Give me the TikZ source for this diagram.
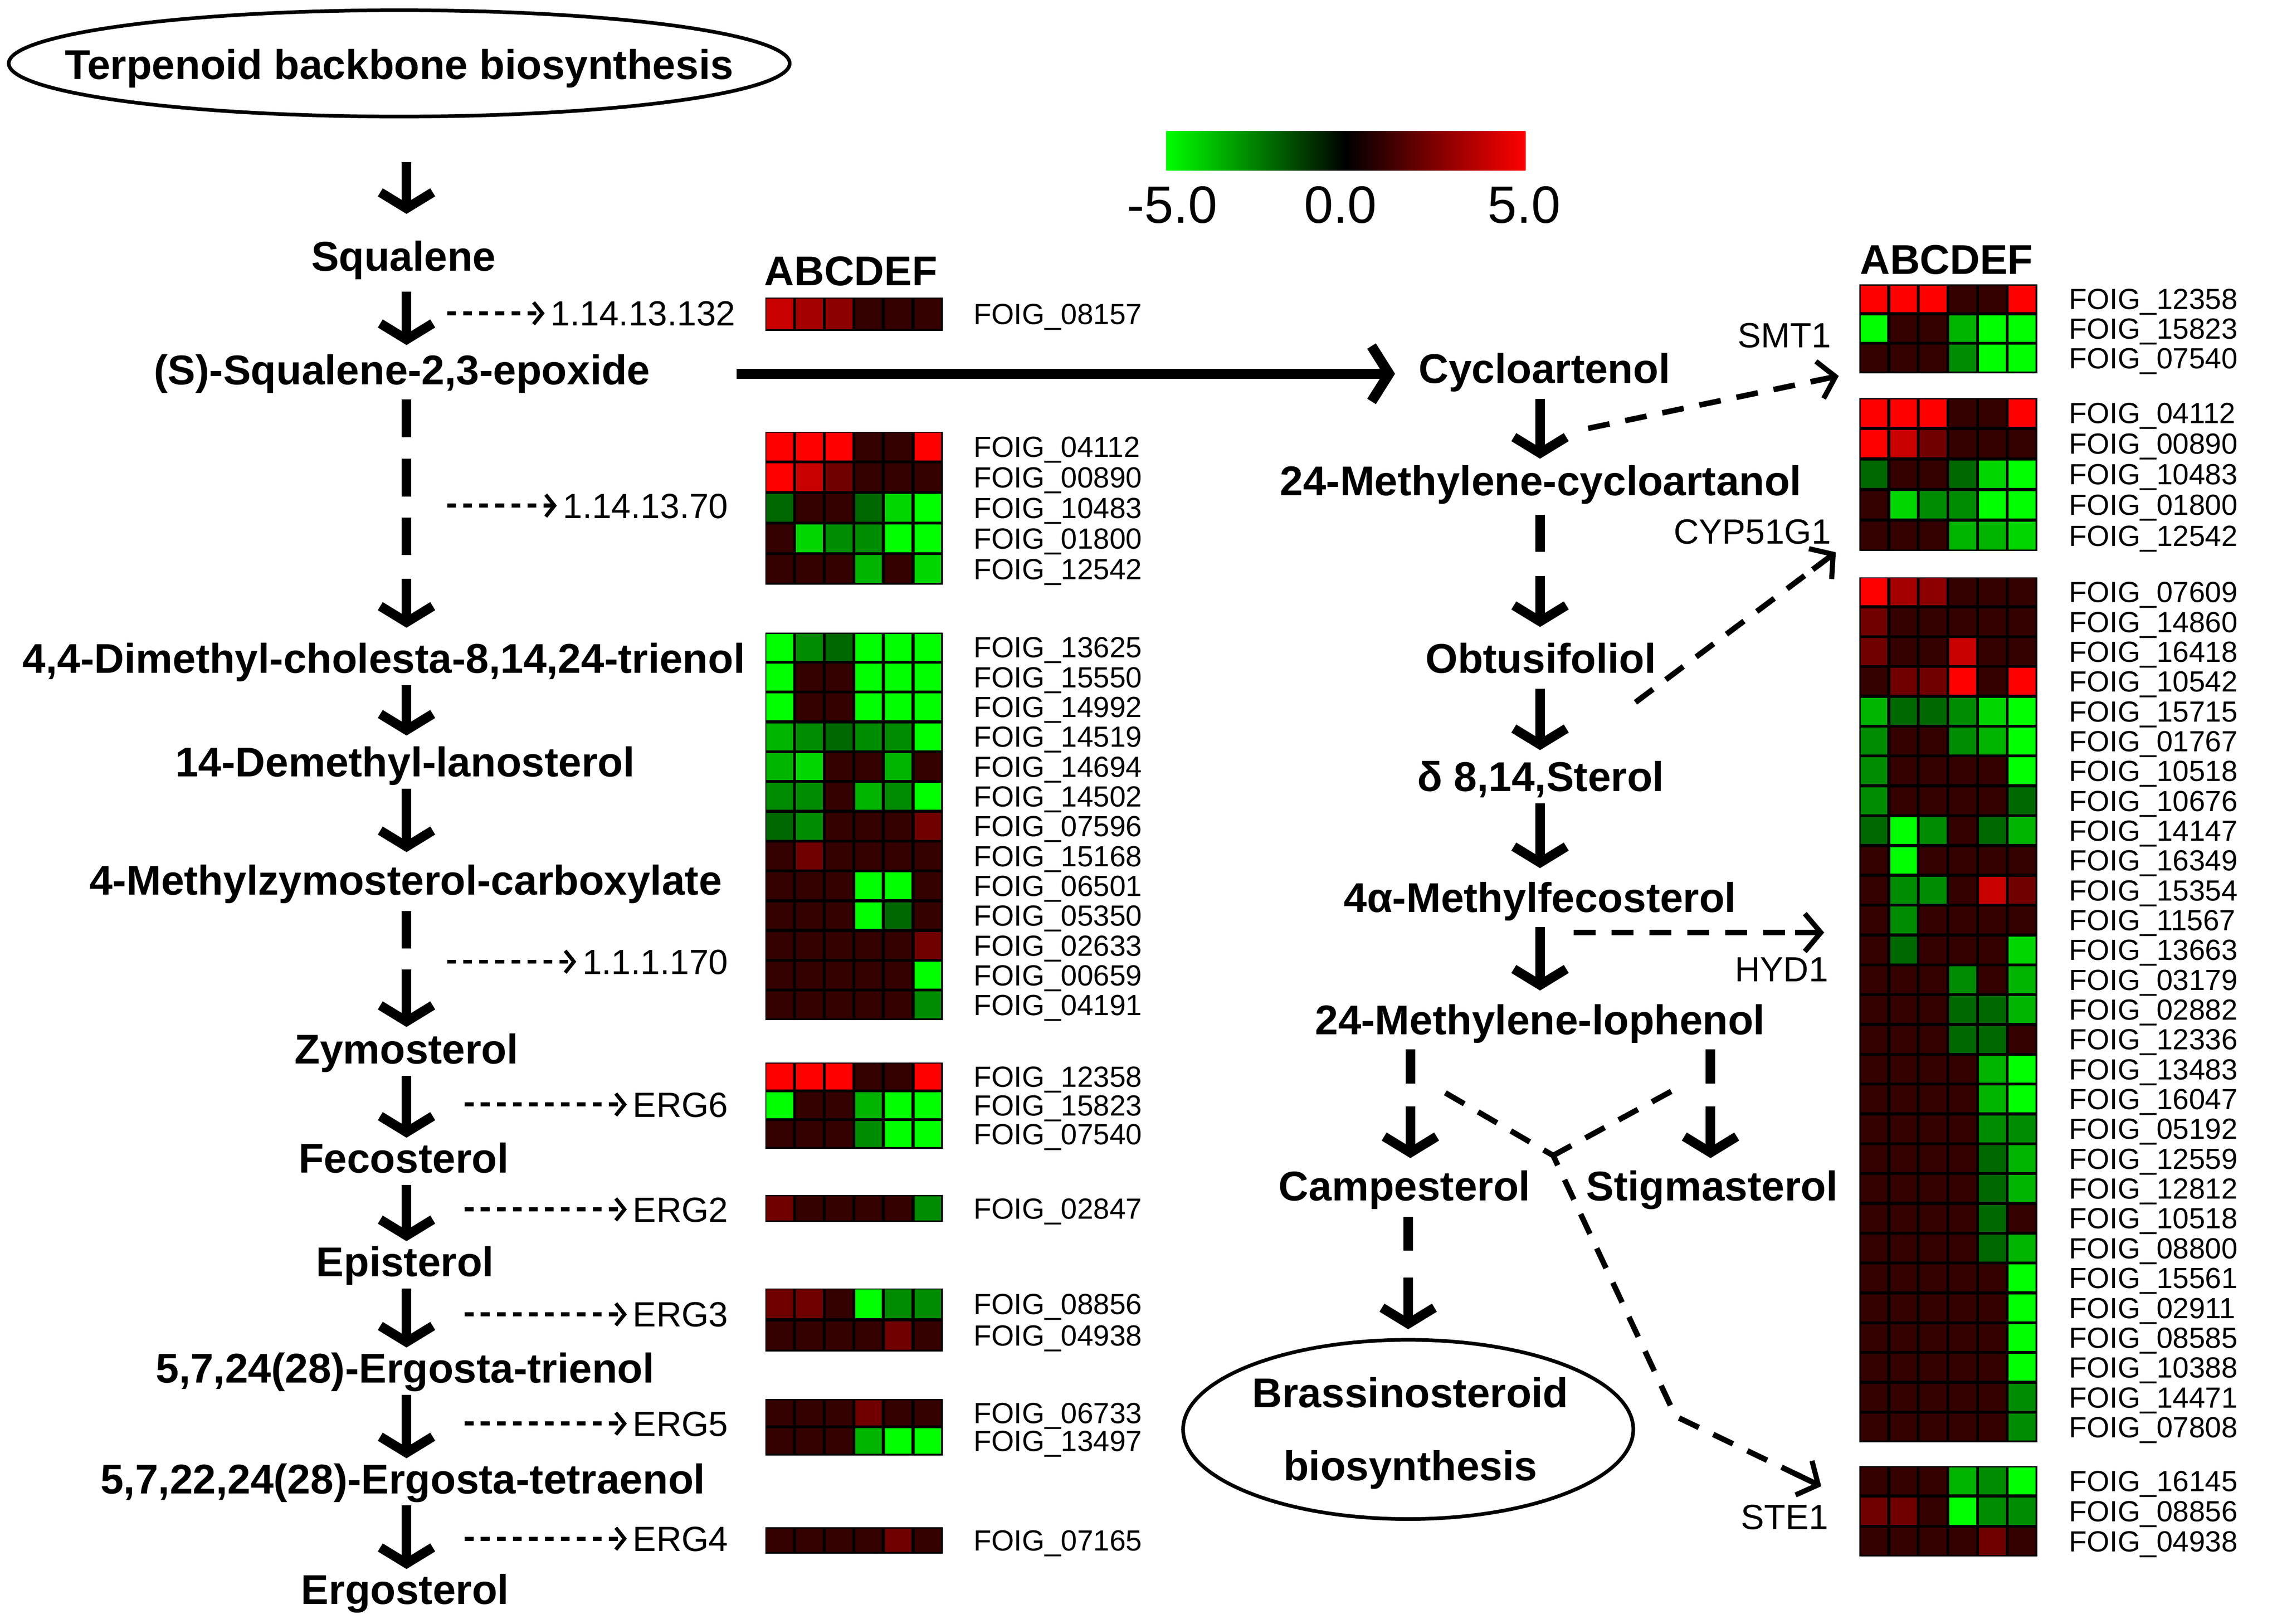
\documentclass[tikz,border=0pt]{standalone}
\usepackage{fontspec}
\setmainfont{Liberation Sans}
\usetikzlibrary{arrows.meta,shapes.geometric}
\definecolor{hmR}{RGB}{255,0,0}
\definecolor{hmr}{RGB}{200,0,0}
\definecolor{hmq}{RGB}{165,0,0}
\definecolor{hmp}{RGB}{140,0,0}
\definecolor{hmm}{RGB}{112,0,0}
\definecolor{hmd}{RGB}{52,0,0}
\definecolor{hmG}{RGB}{0,255,0}
\definecolor{hmg}{RGB}{0,215,0}
\definecolor{hme}{RGB}{0,180,0}
\definecolor{hmf}{RGB}{0,140,0}
\definecolor{hmh}{RGB}{0,104,0}
\newcommand\mypwf{\fontsize{28.5}{30}\selectfont\bfseries}
\newcommand\myenzf{\fontsize{24}{26}\selectfont}
\newcommand\myfoigf{\fontsize{20}{22}\selectfont}
\newcommand\mycbf{\fontsize{36}{38}\selectfont}
\tikzset{
  pw/.style={font=\mypwf, inner sep=0pt, text height=21pt, text depth=6pt, anchor=base},
  enz/.style={font=\myenzf, inner sep=0pt, text height=17.2pt, text depth=0pt},
  foig/.style={font=\myfoigf, inner sep=0pt, text height=14.3pt, text depth=0pt, anchor=west},
  cbl/.style={font=\mycbf, inner sep=0pt, anchor=base},
  hdr/.style={font=\mypwf, inner sep=0pt, anchor=base},
  ell/.style={ellipse, draw, line width=2.5pt, inner sep=0pt},
  solidarr/.style={line width=6.5pt, -{Straight Barb[length=11pt,width=36pt]}, shorten <=2pt, shorten >=3pt},
  dshaft/.style={line width=6.5pt, dash pattern=on 26pt off 14.5pt},
  bigarr/.style={line width=7pt, -{Straight Barb[length=12pt,width=38pt]}},
  enzarr/.style={line width=2.8pt, dash pattern=on 6pt off 5pt, -{Straight Barb[length=6pt,width=15pt,line width=2.5pt]}},
  rarr/.style={line width=3.8pt, dash pattern=on 15pt off 11pt},
  rhead/.style={line width=3.8pt, -{Straight Barb[length=11pt,width=26pt,line width=3.5pt]}},
}
% #1 name, #2 x, #3 ytop, #4 row height, #5 rows, #6 label x, #7 rows list
\newcommand\hmgroup[7]{%
  \node[fill=black, inner sep=0pt, minimum width=122pt, minimum height={#4pt*#5}, anchor=north west] (#1) at (#2,#3) {};
  \foreach \hcodes/\hlab [count=\hr from 0] in {#7} {
    \foreach \hc [count=\hi from 0] in \hcodes {
      \fill[fill=hm\hc] ({#2+\hi*20.333+1},{#3+\hr*#4+1}) rectangle ++(18.333,{#4-2});
    }
    \node[foig] (#1-\hr) at (#6,{#3+(\hr+0.5)*#4}) {FOIG\_\hlab};
  }
}
\begin{document}
\begin{tikzpicture}[x=1pt,y=-1pt]
\useasboundingbox (0,0) rectangle (1566.25,1114.25);
\fill[white] (0,0) rectangle (1566.25,1114.25);
\coordinate (colL) at (279,0);
\coordinate (colR) at (1057,0);

% ---------- left pathway ----------
\node[ell, minimum width=536pt, minimum height=73pt] (terp) at (274,43.5) {};
\node[pw, anchor=center, text depth=0pt] (terpT) at (274,44) {Terpenoid backbone biosynthesis};
\node[pw] (squal) at (277,186) {Squalene};
\node[pw] (epox) at (276,264) {(S)-Squalene-2,3-epoxide};
\node[pw] (dimeth) at (263.5,462) {4,4-Dimethyl-cholesta-8,14,24-trienol};
\node[pw] (demeth) at (278,533) {14-Demethyl-lanosterol};
\node[pw] (mzymo) at (278.5,614) {4-Methylzymosterol-carboxylate};
\node[pw] (zymo) at (279,730) {Zymosterol};
\node[pw] (feco) at (277,805) {Fecosterol};
\node[pw] (epis) at (278,876) {Episterol};
\node[pw] (trien) at (278,949) {5,7,24(28)-Ergosta-trienol};
\node[pw] (tetra) at (276.5,1025) {5,7,22,24(28)-Ergosta-tetraenol};
\node[pw] (ergo) at (278,1101) {Ergosterol};

\draw[solidarr, shorten <=30pt, shorten >=18pt] (terp.south -| colL) -- (squal.north -| colL);
\draw[solidarr, shorten <=8pt, shorten >=6pt] (squal.south -| colL) -- (epox.north -| colL);
% dashed: shaft + solid head segment
\draw[dshaft, shorten <=4pt, shorten >=60pt] (epox.south -| colL) -- (dimeth.north -| colL);
\draw[solidarr, shorten <=127pt, shorten >=10pt] (epox.south -| colL) -- (dimeth.north -| colL);
\draw[solidarr, shorten >=7pt] (dimeth.south -| colL) -- (demeth.north -| colL);
\draw[solidarr, shorten >=8pt] (demeth.south -| colL) -- (mzymo.north -| colL);
\draw[dshaft, shorten <=5pt, shorten >=58pt] (mzymo.south -| colL) -- (zymo.north -| colL);
\draw[solidarr, shorten <=45pt, shorten >=4pt] (mzymo.south -| colL) -- (zymo.north -| colL);
\draw[solidarr] (zymo.south -| colL) -- (feco.north -| colL);
\draw[solidarr] (feco.south -| colL) -- (epis.north -| colL);
\draw[solidarr] (epis.south -| colL) -- (trien.north -| colL);
\draw[solidarr] (trien.south -| colL) -- (tetra.north -| colL);
\draw[solidarr] (tetra.south -| colL) -- (ergo.north -| colL);

% enzymes left
\node[enz, anchor=east] (ec1) at (505,215) {1.14.13.132};
\node[enz, anchor=east] (ec2) at (500,347) {1.14.13.70};
\node[enz, anchor=east] (ec3) at (500,660) {1.1.1.170};
\node[enz, anchor=east] (erg6) at (500,758) {ERG6};
\node[enz, anchor=east] (erg2) at (500,830) {ERG2};
\node[enz, anchor=east] (erg3) at (500,902) {ERG3};
\node[enz, anchor=east] (erg5) at (500,977) {ERG5};
\node[enz, anchor=east] (erg4) at (500,1056) {ERG4};
\coordinate (ec1s) at (307,215);
\coordinate (ec2s) at (307,347);
\coordinate (ec3s) at (307,660);
\coordinate (erg6s) at (319,758);
\coordinate (erg2s) at (319,830);
\coordinate (erg3s) at (319,902);
\coordinate (erg5s) at (319,977);
\coordinate (erg4s) at (319,1056);
\foreach \e in {ec1,ec2,ec3,erg6,erg2,erg3,erg5,erg4}
  \draw[enzarr, shorten >=4pt] (\e s) -- (\e.west);

% ---------- right pathway ----------
\node[pw] (cyclo) at (1060,263) {Cycloartenol};
\node[pw] (cycan) at (1057.5,340) {24-Methylene-cycloartanol};
\node[pw] (obtu) at (1057.5,462) {Obtusifoliol};
\node[pw] (sterol) at (1057.5,543) {δ 8,14,Sterol};
\node[pw] (mfeco) at (1057,626) {4α-Methylfecosterol};
\node[pw] (loph) at (1057,710) {24-Methylene-lophenol};
\node[pw] (camp) at (964,824) {Campesterol};
\node[pw] (stig) at (1175,824) {Stigmasterol};
\node[ell, minimum width=309pt, minimum height=123pt] (brass) at (966.5,981) {};
\node[pw] (brassA) at (968,966) {Brassinosteroid};
\node[pw] (brassB) at (968,1016) {biosynthesis};

\draw[bigarr, shorten <=59pt, shorten >=16pt] (epox.east) -- (epox.east -| cyclo.west);
\draw[solidarr, shorten <=4.5pt, shorten >=4pt] (cyclo.south -| colR) -- (cycan.north -| colR);
\draw[dshaft, shorten <=7pt, shorten >=62pt] (cycan.south -| colR) -- (obtu.north -| colR);
\draw[solidarr, shorten <=49pt, shorten >=10.5pt] (cycan.south -| colR) -- (obtu.north -| colR);
\draw[solidarr, shorten <=4.5pt, shorten >=7pt] (obtu.south -| colR) -- (sterol.north -| colR);
\draw[solidarr, shorten >=9pt] (sterol.south -| colR) -- (mfeco.north -| colR);
\draw[solidarr, shorten <=4pt, shorten >=9pt] (mfeco.south -| colR) -- (loph.north -| colR);
\coordinate (colC) at (968,0);
\coordinate (colS) at (1174,0);
\draw[dshaft, shorten <=4pt, shorten >=59pt] (loph.south -| colC) -- (camp.north -| colC);
\draw[solidarr, shorten <=43pt, shorten >=8pt] (loph.south -| colC) -- (camp.north -| colC);
\draw[dshaft, shorten <=4pt, shorten >=59pt] (loph.south -| colS) -- (stig.north -| colS);
\draw[solidarr, shorten <=43pt, shorten >=8pt] (loph.south -| colS) -- (stig.north -| colS);
\draw[dshaft, shorten <=5pt, shorten >=60pt] (camp.south -| brass) -- (brass.north);
\draw[solidarr, shorten <=46.5pt, shorten >=6pt] (camp.south -| brass) -- (brass.north);

% enzymes right
\node[enz, anchor=east] (smt1) at (1257,230) {SMT1};
\node[enz, anchor=east] (cyp) at (1257,364.5) {CYP51G1};
\node[enz, anchor=east] (hyd1) at (1255,665) {HYD1};
\node[enz, anchor=east] (ste1) at (1255,1041) {STE1};
\coordinate (smtS) at (1090,294);
\coordinate (smtT) at (1262,258);
\coordinate (cypS) at (1122.5,482);
\coordinate (cypT) at (1260,379);
\coordinate (hydS) at (1080,640);
\coordinate (hydT) at (1252,640);
\coordinate (steS) at (992,750);
\coordinate (steJ) at (1066,793);
\coordinate (steK) at (1150,972);
\coordinate (steT) at (1250,1020);
\coordinate (stgS) at (1147,749);
\draw[rarr, shorten >=12pt] (smtS) -- (smtT);
\draw[rhead, shorten <=156pt] (smtS) -- (smtT);
\draw[rarr, shorten >=12pt] (cypS) -- (cypT);
\draw[rhead, shorten <=152pt] (cypS) -- (cypT);
\draw[rarr, shorten >=12pt] (hydS) -- (hydT);
\draw[rhead, shorten <=152pt] (hydS) -- (hydT);
\draw[rarr, shorten >=12pt] (steS) -- (steJ) -- (steK) -- (steT);
\draw[rhead, shorten <=91pt] (steK) -- (steT);
\draw[rarr] (stgS) -- (steJ);

% ---------- colour scale ----------
\shade[left color=hmG, right color=hmR, middle color=black] (800.5,90) rectangle (1047,117);
\node[cbl] (cbmin) at (804.5,153) {-5.0};
\node[cbl] (cbmid) at (920,153) {0.0};
\node[cbl] (cbmax) at (1046,153) {5.0};

% ---------- heatmaps left ----------
\node[hdr] (hdrL) at (584,196) {ABCDEF};
\hmgroup{hLa}{525}{204}{23}{1}{668}{{r,q,p,d,d,d}/08157}
\hmgroup{hLb}{525}{296}{21}{5}{668}{{R,R,R,d,d,R}/04112,{R,r,m,d,d,d}/00890,{h,d,d,h,g,G}/10483,{d,g,f,f,G,G}/01800,{d,d,d,e,d,g}/12542}
\hmgroup{hLc}{525}{434}{20.46}{13}{668}{{G,f,h,G,G,G}/13625,{G,d,d,G,G,G}/15550,{G,d,d,G,G,G}/14992,{e,f,h,f,f,G}/14519,{e,g,d,d,e,d}/14694,{f,f,d,e,f,G}/14502,{h,f,d,d,d,m}/07596,{d,m,d,d,d,d}/15168,{d,d,d,G,G,d}/06501,{d,d,d,G,h,d}/05350,{d,d,d,d,d,m}/02633,{d,d,d,d,d,G}/00659,{d,d,d,d,d,f}/04191}
\hmgroup{hLd}{525}{729}{19.7}{3}{668}{{R,R,R,d,d,R}/12358,{G,d,d,e,G,G}/15823,{d,d,d,f,G,G}/07540}
\hmgroup{hLe}{525}{820}{18.5}{1}{668}{{m,d,d,d,d,f}/02847}
\hmgroup{hLf}{525}{884}{21.7}{2}{668}{{m,m,d,G,f,f}/08856,{d,d,d,d,m,d}/04938}
\hmgroup{hLg}{525}{960}{19.3}{2}{668}{{d,d,d,m,d,d}/06733,{d,d,d,e,G,G}/13497}
\hmgroup{hLh}{525}{1048}{18}{1}{668}{{d,d,d,d,m,d}/07165}

% ---------- heatmaps right ----------
\node[hdr] (hdrR) at (1336,188) {ABCDEF};
\hmgroup{hRa}{1276}{195}{20.3}{3}{1420}{{R,R,R,d,d,R}/12358,{G,d,d,e,G,G}/15823,{d,d,d,f,G,G}/07540}
\hmgroup{hRb}{1276}{273}{21}{5}{1420}{{R,R,R,d,d,R}/04112,{R,r,m,d,d,d}/00890,{h,d,d,h,g,G}/10483,{d,g,f,f,G,G}/01800,{d,d,d,e,e,g}/12542}
\hmgroup{hRc}{1276}{396}{20.47}{29}{1420}{{R,q,p,d,d,d}/07609,{m,d,d,d,d,d}/14860,{m,d,d,r,d,d}/16418,{d,m,m,R,d,R}/10542,{e,h,h,f,g,G}/15715,{f,d,d,f,e,G}/01767,{f,d,d,d,d,G}/10518,{f,d,d,d,d,h}/10676,{h,G,f,d,h,e}/14147,{d,G,d,d,d,d}/16349,{d,f,f,d,r,m}/15354,{d,f,d,d,d,d}/11567,{d,h,d,d,d,g}/13663,{d,d,d,f,d,e}/03179,{d,d,d,h,h,e}/02882,{d,d,d,h,h,d}/12336,{d,d,d,d,e,G}/13483,{d,d,d,d,e,G}/16047,{d,d,d,d,f,f}/05192,{d,d,d,d,h,e}/12559,{d,d,d,d,h,e}/12812,{d,d,d,d,h,d}/10518,{d,d,d,d,h,e}/08800,{d,d,d,d,d,G}/15561,{d,d,d,d,d,G}/02911,{d,d,d,d,d,G}/08585,{d,d,d,d,d,G}/10388,{d,d,d,d,d,f}/14471,{d,d,d,d,d,f}/07808}
\hmgroup{hRd}{1276}{1006}{20.7}{3}{1420}{{d,d,d,e,f,G}/16145,{m,m,d,G,f,f}/08856,{d,d,d,d,m,d}/04938}
\end{tikzpicture}
\end{document}
